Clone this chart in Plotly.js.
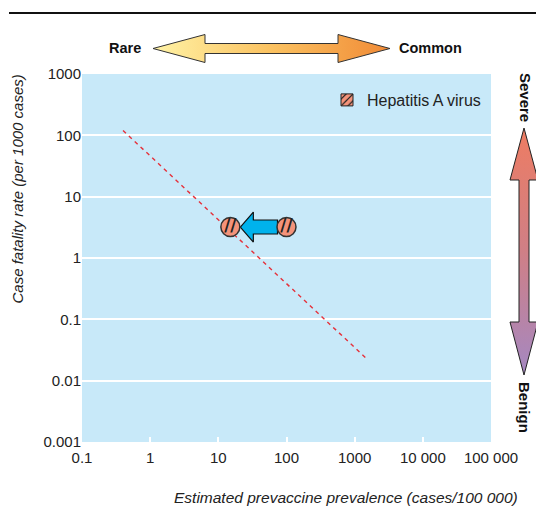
<!DOCTYPE html>
<html><head><meta charset="utf-8">
<script src="https://cdn.plot.ly/plotly-3.0.1.min.js"></script>
<style>html,body{margin:0;padding:0;background:#fff}</style>
</head><body><div id="chart" style="width:536px;height:507px"></div>
<script>
// ---- data ----
const diseases = ["Hepatitis A virus"];
const prevalencePrevaccine = [100];   // cases / 100 000, before vaccination
const prevalenceNow = [15];           // cases / 100 000, after vaccination
const fatalityRate = [3.2];           // per 1000 cases
const trendX = [0.4, 1550];
const trendY = [120, 0.022];
const xTickVals = [0.1, 1, 10, 100, 1000, 10000, 100000];
const xTickText = ["0.1", "1", "10", "100", "1000", "10 000", "100 000"];
const yTickVals = [0.001, 0.01, 0.1, 1, 10, 100, 1000];
const yTickText = ["0.001", "0.01", "0.1", "1", "10", "100", "1000"];

// ---- page geometry (pixels) ----
const W = 536, H = 507;
const PL = 82, PR = 491, PT = 74, PB = 442;
const X_RANGE = [-1, 5], Y_RANGE = [-3, 3];
const xppd = (PR - PL) / (X_RANGE[1] - X_RANGE[0]);
const yppd = (PB - PT) / (Y_RANGE[1] - Y_RANGE[0]);
const FONT = "Liberation Sans, Arial, sans-serif";

// cyan "shift" arrow between the two hepatitis markers, built in log space
function shiftArrow(i) {
  const c1 = Math.log10(prevalenceNow[i]), c2 = Math.log10(prevalencePrevaccine[i]);
  const yc = Math.log10(fatalityRate[i]);
  const tip = c1 + 10 / xppd, hb = c1 + 23 / xppd, tail = c2 - 9 / xppd;
  const hh = 15 / yppd, bh = 7 / yppd;
  const lx = [tip, hb, hb, tail, tail, hb, hb, tip];
  const ly = [yc, yc + hh, yc + bh, yc + bh, yc - bh, yc - bh, yc - hh, yc];
  return {x: lx.map(v => Math.pow(10, v)), y: ly.map(v => Math.pow(10, v))};
}
const arr = shiftArrow(0);

// decorative double arrows (pixel space of overlay axes)
function hArrow(x0, x1, yc, headLen, hh, bh) {
  return {x: [x0, x0 + headLen, x0 + headLen, x1 - headLen, x1 - headLen, x1, x1 - headLen, x1 - headLen, x0 + headLen, x0 + headLen, x0],
          y: [yc, yc - hh, yc - bh, yc - bh, yc - hh, yc, yc + hh, yc + bh, yc + bh, yc + hh, yc]};
}
function vArrow(y0, y1, xc, headLen, hw, bw, headLen2) {
  return {x: [xc, xc + hw, xc + bw, xc + bw, xc + hw, xc, xc - hw, xc - bw, xc - bw, xc - hw, xc],
          y: [y0, y0 + headLen, y0 + headLen, y1 - headLen2, y1 - headLen2, y1, y1 - headLen2, y1 - headLen2, y0 + headLen, y0 + headLen, y0]};
}
const topArrow = hArrow(153, 390, 48.5, 52, 14, 5);
const sideArrow = vArrow(128, 375, 524, 52, 14, 5, 53);

const traces = [
  {type: "scatter", mode: "lines", x: trendX, y: trendY, xaxis: "x", yaxis: "y",
   line: {color: "#E5303A", width: 1.4, dash: "4px,4px"}, showlegend: false, hoverinfo: "skip"},
  {type: "scatter", mode: "lines", x: arr.x, y: arr.y, xaxis: "x", yaxis: "y",
   fill: "toself", fillcolor: "#00B2EC", line: {color: "#111", width: 1.2},
   showlegend: false, hoverinfo: "skip"},
  {type: "scatter", mode: "markers+text", name: diseases[0],
   x: prevalenceNow.concat(prevalencePrevaccine), y: fatalityRate.concat(fatalityRate),
   xaxis: "x", yaxis: "y",
   text: ["//", "//"], textposition: "middle center",
   textfont: {family: "DejaVu Sans", size: 17, color: "#222", weight: "bold"},
   marker: {symbol: "circle", size: 19, color: "#F4937A", line: {color: "#333", width: 1.5}},
   showlegend: false, cliponaxis: false},
  {type: "bar", name: diseases[0], x: [null], y: [null], xaxis: "x", yaxis: "y",
   marker: {color: "#F4937A", line: {color: "#222", width: 1},
            pattern: {shape: "/", fgcolor: "#222", bgcolor: "#F4937A", size: 6, solidity: 0.25}},
   showlegend: true},
  // decorative arrows
  {type: "scatter", mode: "lines", x: topArrow.x, y: topArrow.y, xaxis: "x2", yaxis: "y2",
   fill: "toself", line: {color: "#333", width: 1},
   fillgradient: {type: "horizontal", start: 153, stop: 390,
     colorscale: [[0, "#FFF3A6"], [0.5, "#FBC261"], [1, "#F08A36"]]},
   showlegend: false, hoverinfo: "skip"},
  {type: "scatter", mode: "lines", x: sideArrow.x, y: sideArrow.y, xaxis: "x2", yaxis: "y2",
   fill: "toself", line: {color: "#222", width: 1},
   fillgradient: {type: "vertical", start: 128, stop: 375,
     colorscale: [[0, "#EE7C62"], [0.5, "#CF7F86"], [1, "#A488C2"]]},
   showlegend: false, hoverinfo: "skip", cliponaxis: false}
];

const layout = {
  width: W, height: H,
  margin: {l: 0, r: 0, t: 0, b: 0},
  paper_bgcolor: "#ffffff", plot_bgcolor: "rgba(0,0,0,0)",
  font: {family: FONT, size: 15, color: "#111"},
  showlegend: true,
  legend: {x: 327 / W, y: 1 - 83 / H, xanchor: "left", yanchor: "top",
           bgcolor: "rgba(0,0,0,0)", font: {family: FONT, size: 16, color: "#222"}},
  xaxis: {type: "log", range: X_RANGE, domain: [PL / W, PR / W], anchor: "y",
          tickvals: xTickVals, ticktext: xTickText, showgrid: false, zeroline: false,
          ticks: "inside", ticklen: 5, tickwidth: 2, tickcolor: "#ffffff",
          ticklabelstandoff: 5,
          showline: false, tickfont: {family: FONT, size: 15, color: "#222"}},
  yaxis: {type: "log", range: Y_RANGE, domain: [1 - PB / H, 1 - PT / H], anchor: "x",
          tickvals: yTickVals, ticktext: yTickText, showgrid: true, gridcolor: "#ffffff",
          gridwidth: 2, zeroline: false, ticks: "", showline: false,
          tickfont: {family: FONT, size: 15, color: "#222"}},
  xaxis2: {domain: [0, 1], range: [0, W], anchor: "y2", visible: false, fixedrange: true},
  yaxis2: {domain: [0, 1], range: [H, 0], anchor: "x2", visible: false, fixedrange: true},
  shapes: [
    {type: "rect", xref: "x domain", yref: "y domain", x0: 0, x1: 1, y0: 0, y1: 1,
     fillcolor: "#C8E9F9", line: {width: 0}, layer: "below"},
    {type: "line", xref: "paper", yref: "paper", x0: 9 / W, x1: 1, y0: 1 - 13 / H, y1: 1 - 13 / H,
     line: {color: "#111", width: 2}}
  ],
  annotations: [
    {text: "Case fatality rate (per 1000 cases)", xref: "paper", yref: "paper",
     x: 17 / W, y: 1 - 73 / H, xanchor: "center", yanchor: "top", textangle: -90, showarrow: false,
     font: {family: FONT, size: 15, color: "#222", style: "italic"}},
    {text: "Estimated prevaccine prevalence (cases/100 000)", xref: "paper", yref: "paper",
     x: 520 / W, y: 1 - 497 / H, xanchor: "right", yanchor: "middle", showarrow: false,
     font: {family: FONT, size: 15.5, color: "#222", style: "italic"}},
    {text: "<b>Rare</b>", xref: "paper", yref: "paper", x: 143 / W, y: 1 - 48 / H,
     xanchor: "right", yanchor: "middle", showarrow: false, font: {family: FONT, size: 14.5, color: "#111"}},
    {text: "<b>Common</b>", xref: "paper", yref: "paper", x: 397 / W, y: 1 - 48 / H,
     xanchor: "left", yanchor: "middle", showarrow: false, font: {family: FONT, size: 14.5, color: "#111"}},
    {text: "<b>Severe</b>", xref: "paper", yref: "paper", x: 525 / W, y: 1 - 97 / H,
     xanchor: "center", yanchor: "middle", textangle: 90, showarrow: false, font: {family: FONT, size: 15, color: "#111"}},
    {text: "<b>Benign</b>", xref: "paper", yref: "paper", x: 525 / W, y: 1 - 407 / H,
     xanchor: "center", yanchor: "middle", textangle: 90, showarrow: false, font: {family: FONT, size: 15, color: "#111"}}
  ]
};

Plotly.newPlot("chart", traces, layout, {displayModeBar: false, staticPlot: true});
</script>
</body></html>
